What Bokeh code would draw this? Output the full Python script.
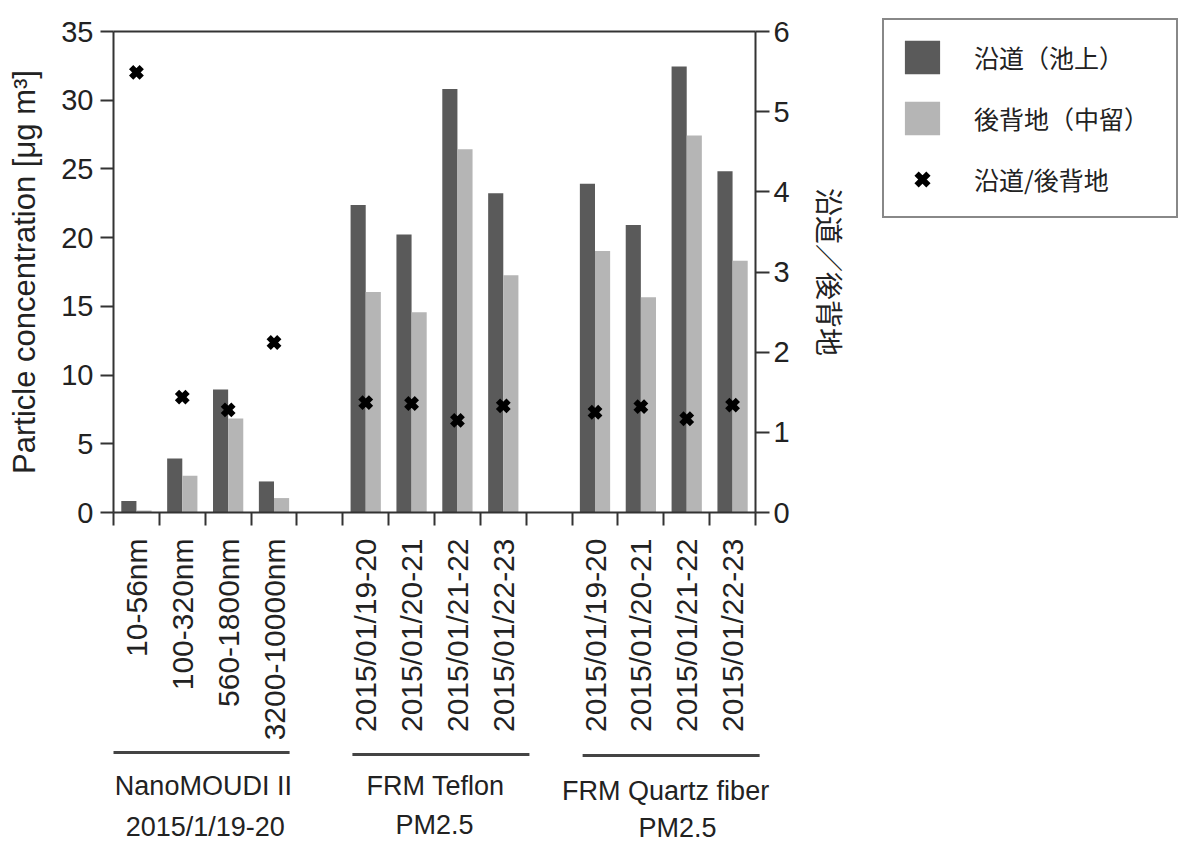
import math
from bokeh.plotting import figure
from bokeh.models import (Range1d, LinearAxis, FixedTicker, Legend, LegendItem)
from bokeh.core.properties import value
from bokeh.embed import file_html
from bokeh.resources import INLINE

# ---------------- data ----------------
categories = ["10-56nm", "100-320nm", "560-1800nm", "3200-10000nm",
              "2015/01/19-20", "2015/01/20-21", "2015/01/21-22", "2015/01/22-23",
              "2015/01/19-20", "2015/01/20-21", "2015/01/21-22", "2015/01/22-23"]
group_line1 = ["NanoMOUDI II", "FRM Teflon", "FRM Quartz fiber"]
group_line2 = ["2015/1/19-20", "PM2.5", "PM2.5"]
roadside = [0.83, 3.93, 8.95, 2.26, 22.37, 20.22, 30.82, 23.23, 23.93, 20.92, 32.45, 24.83]
background = [0.15, 2.68, 6.84, 1.05, 16.04, 14.58, 26.43, 17.26, 19.02, 15.66, 27.44, 18.32]
ratio = [5.49, 1.44, 1.28, 2.12, 1.37, 1.36, 1.15, 1.33, 1.25, 1.32, 1.17, 1.34]
left_ticks = [0, 5, 10, 15, 20, 25, 30, 35]
right_ticks = [0, 1, 2, 3, 4, 5, 6]
legend_labels = ["沿道（池上）", "後背地（中留）", "沿道/後背地"]
left_label = "Particle concentration [μg m³]"
right_label = "沿道／後背地"

LATIN = "Liberation Sans"
JP = "Noto Sans CJK JP"
DARK = "#5a5a5a"
LIGHT = "#b5b5b5"
AX = "#333333"
TXT = "#222222"

per_group = 4
n_groups = len(group_line1)
n_slots = len(categories) + (n_groups - 1)
slots = [i + i // per_group for i in range(len(categories))]
x_dark = [s + 0.335 for s in slots]
x_light = [s + 0.665 for s in slots]
x_mid = [s + 0.5 for s in slots]

# ---------------- layout (pixels) ----------------
W, H = 1187, 847
PLOT_L, PLOT_R = 113, 755      # x of slot 0 / last slot edge
PLOT_T, PLOT_B = 31, 512       # y of top value / zero
YMAX, RMAX = 35, 6
sx = (PLOT_R - PLOT_L) / n_slots
sy = (PLOT_B - PLOT_T) / YMAX
x_range = Range1d(-PLOT_L / sx, (W - PLOT_L) / sx)
y_lo, y_hi = -(H - PLOT_B) / sy, YMAX + PLOT_T / sy
y_range = Range1d(y_lo, y_hi)

p = figure(width=W, height=H, min_border=0, x_range=x_range, y_range=y_range,
           output_backend="svg", toolbar_location=None)
p.extra_y_ranges = {"ratio": Range1d(y_lo * RMAX / YMAX, y_hi * RMAX / YMAX)}
p.xgrid.visible = False
p.ygrid.visible = False
p.outline_line_color = None
p.background_fill_color = "white"
p.border_fill_color = "white"

r_dark = p.vbar(x=x_dark, top=roadside, width=0.33, fill_color=DARK, line_color=None)
r_light = p.vbar(x=x_light, top=background, width=0.33, fill_color=LIGHT, line_color=None)
r_ratio = p.scatter(x=x_mid, y=ratio, y_range_name="ratio", marker="x", size=15,
                    line_color="black", line_width=6)

# bottom axis at y = 0
xa = p.xaxis[0]
xa.fixed_location = 0
xa.bounds = (0, n_slots)
xa.ticker = FixedTicker(ticks=x_mid, minor_ticks=list(range(n_slots + 1)))
xa.major_label_overrides = {x: c for x, c in zip(x_mid, categories)}
xa.major_label_orientation = math.pi / 2
xa.major_tick_line_color = None
xa.major_tick_out = 13
xa.major_tick_in = 0
xa.minor_tick_out = 13
xa.minor_tick_in = 0
xa.minor_tick_line_color = AX
xa.minor_tick_line_width = 2
xa.axis_line_color = AX
xa.axis_line_width = 2
xa.major_label_standoff = 13
xa.major_label_text_font = LATIN
xa.major_label_text_font_size = "30px"
xa.major_label_text_color = TXT

# top frame line
ta = LinearAxis(fixed_location=YMAX, bounds=(0, n_slots), ticker=FixedTicker(ticks=[]),
                axis_line_color=AX, axis_line_width=2,
                major_tick_line_color=None, minor_tick_line_color=None,
                major_label_text_font_size="0px")
p.add_layout(ta, "above")

# left axis at slot 0
ya = p.yaxis[0]
ya.fixed_location = 0
ya.bounds = (0, YMAX)
ya.ticker = FixedTicker(ticks=left_ticks)
ya.minor_tick_line_color = None
ya.major_tick_out = 13
ya.major_tick_in = 0
ya.major_tick_line_color = AX
ya.major_tick_line_width = 2
ya.axis_line_color = AX
ya.axis_line_width = 2
ya.major_label_standoff = 7
ya.major_label_text_font = LATIN
ya.major_label_text_font_size = "29px"
ya.major_label_text_color = TXT
ya.axis_label = left_label
ya.axis_label_text_font = LATIN
ya.axis_label_text_font_size = "31px"
ya.axis_label_text_font_style = "normal"
ya.axis_label_text_color = TXT
ya.axis_label_standoff = 16

# right axis at last slot edge
ra = LinearAxis(y_range_name="ratio", ticker=FixedTicker(ticks=right_ticks),
                fixed_location=n_slots, bounds=(0, RMAX))
ra.minor_tick_line_color = None
ra.major_tick_out = 14
ra.major_tick_in = 0
ra.major_tick_line_color = AX
ra.major_tick_line_width = 2
ra.axis_line_color = AX
ra.axis_line_width = 2
ra.major_label_standoff = 4
ra.major_label_text_font = LATIN
ra.major_label_text_font_size = "29px"
ra.major_label_text_color = TXT
ra.axis_label = right_label
ra.axis_label_text_font = JP
ra.axis_label_text_font_size = "28px"
ra.axis_label_text_font_style = "normal"
ra.axis_label_text_color = TXT
ra.axis_label_standoff = 17
p.add_layout(ra, "right")

# group brackets and names below the category labels
g_start = [0.0, 5.21, 10.23]
g_end = [3.84, 9.07, 14.09]
g_line_y = [-17.46, -17.61, -17.68]
p.segment(x0=g_start, x1=g_end, y0=g_line_y, y1=g_line_y,
          line_color="#444444", line_width=3)
p.text(x=[1.96, 7.02, 12.04], y=[-19.87, -19.87, -20.3], text=group_line1,
       text_align="center", text_baseline="middle",
       text_font=value(LATIN), text_font_size="27px", text_color=TXT)
p.text(x=[2.0, 7.0, 12.3], y=[-22.85, -22.75, -22.95], text=group_line2,
       text_align="center", text_baseline="middle",
       text_font=value(LATIN), text_font_size="27px", text_color=TXT)

legend = Legend(items=[LegendItem(label=legend_labels[0], renderers=[r_dark]),
                       LegendItem(label=legend_labels[1], renderers=[r_light]),
                       LegendItem(label=legend_labels[2], renderers=[r_ratio])],
                location=(882, H - 218), orientation="vertical",
                glyph_width=44, glyph_height=42, spacing=19, padding=16,
                label_standoff=30, label_width=186, margin=0,
                label_text_font=JP, label_text_font_size="25px",
                label_text_color=TXT,
                border_line_color="#111111", border_line_width=2,
                background_fill_color="white", background_fill_alpha=1.0)
p.add_layout(legend)

open("out.html", "w").write(file_html(p, INLINE))
